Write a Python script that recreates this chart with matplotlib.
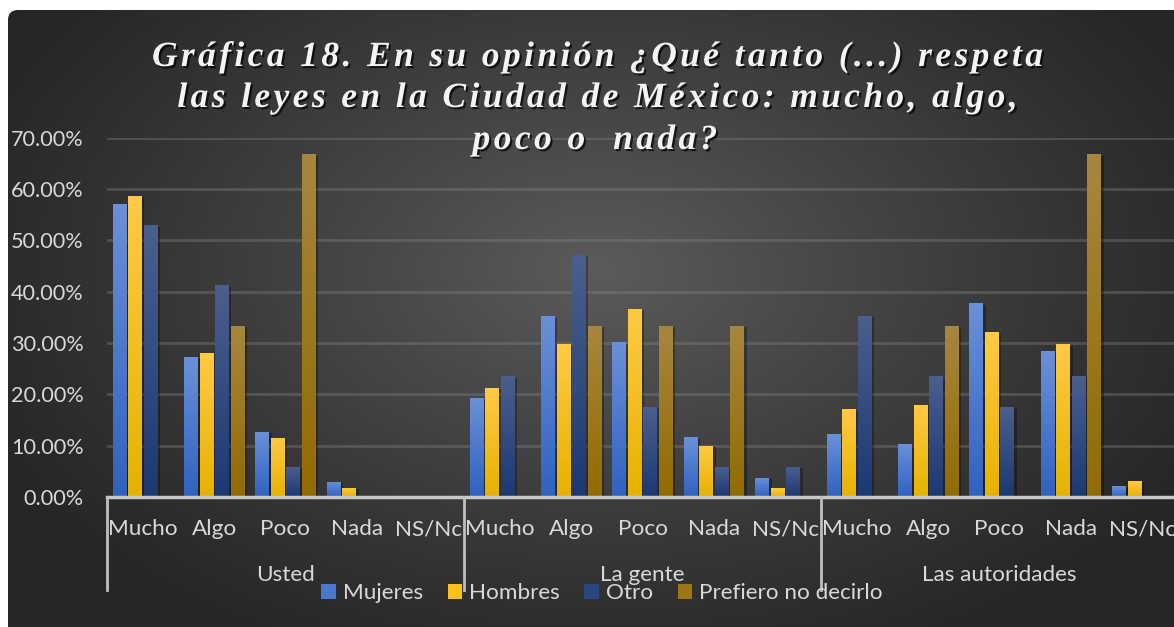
import numpy as np
import matplotlib
matplotlib.use("Agg")
import matplotlib.pyplot as plt
import matplotlib.patheffects as pe
from matplotlib.colors import LinearSegmentedColormap
from matplotlib.patches import FancyBboxPatch, Patch
from matplotlib.font_manager import FontProperties
import matplotlib.transforms as mtransforms

# ---------------- data ----------------
title_lines = ["Gráfica 18. En su opinión ¿Qué tanto (...) respeta",
               "las leyes en la Ciudad de México: mucho, algo,",
               "poco o  nada?"]
categories = ["Mucho", "Algo", "Poco", "Nada", "NS/Nc"]
groups = ["Usted", "La gente", "Las autoridades"]
series_names = ["Mujeres", "Hombres", "Otro", "Prefiero no decirlo"]
mujeres = [0.571, 0.272, 0.127, 0.030, 0.0,
           0.192, 0.352, 0.301, 0.116, 0.037,
           0.122, 0.103, 0.377, 0.284, 0.021]
hombres = [0.587, 0.280, 0.115, 0.018, 0.0,
           0.213, 0.297, 0.367, 0.100, 0.017,
           0.171, 0.179, 0.321, 0.297, 0.031]
otro = [0.529, 0.412, 0.059, 0.0, 0.0,
        0.235, 0.471, 0.176, 0.059, 0.059,
        0.353, 0.235, 0.176, 0.235, 0.0]
prefiero = [0.0, 0.333, 0.667, 0.0, 0.0,
            0.0, 0.333, 0.333, 0.333, 0.0,
            0.0, 0.333, 0.0, 0.667, 0.0]
yticks = [0.0, 0.1, 0.2, 0.3, 0.4, 0.5, 0.6, 0.7]

series = [mujeres, hombres, otro, prefiero]
grad_colors = [("#2f62bf", "#6b90d9"),   # bottom, top
               ("#e6b200", "#ffca45"),
               ("#1b3972", "#4c5f8e"),
               ("#926b00", "#a8863f")]
legend_colors = ["#4a78cf", "#fcc21a", "#2a4680", "#9c7714"]

W, H = 1174, 627
fig = plt.figure(figsize=(W / 100, H / 100), dpi=100, facecolor="white")

def fx(px):
    return px / W

def fy(py):
    return 1 - py / H

# ---------------- background ----------------
bg = fig.add_axes([0, 0, 1, 1], zorder=0)
bg.set_xlim(0, W)
bg.set_ylim(H, 0)
bg.axis("off")
yy, xx = np.mgrid[0:H, 0:W]
r = np.sqrt(((xx - 600) / 680.0) ** 2 + ((yy - 270) / 430.0) ** 2)
t = np.clip(1 - r, 0, 1) ** 1.1
dark = np.array([0x26, 0x26, 0x26]) / 255
light = np.array([0x5b, 0x5b, 0x5b]) / 255
img = dark[None, None, :] + (light - dark)[None, None, :] * t[..., None]
im = bg.imshow(img, extent=[0, W, H, 0], aspect="auto", interpolation="bilinear")
clip = FancyBboxPatch((8, 10), W + 40, H + 40, boxstyle="round,pad=0,rounding_size=10",
                      transform=bg.transData, facecolor="none", edgecolor="none")
bg.add_patch(clip)
im.set_clip_path(clip)

# ---------------- main axes ----------------
x0_px, x1_px = 107, 1178
y0_px, y1_px = 497, 137.5
ax = fig.add_axes([fx(x0_px), fy(y0_px), (x1_px - x0_px) / W, (y0_px - y1_px) / H], zorder=2)
ax.patch.set_alpha(0)
for s in ax.spines.values():
    s.set_visible(False)

n = len(mujeres)
x = np.arange(n)
pitch = 0.218
width = 0.19
grad = np.linspace(0, 1, 256).reshape(-1, 1)
for i, (vals, (cb, ct)) in enumerate(zip(series, grad_colors)):
    cmap = LinearSegmentedColormap.from_list(f"g{i}", [cb, ct])
    bars = ax.bar(x + (i - 1.5) * pitch, vals, width=width, color=cb, zorder=3,
                  label=series_names[i])
    for b in bars:
        h = b.get_height()
        if h <= 0:
            b.set_visible(False)
            continue
        b.set_path_effects([pe.SimplePatchShadow(offset=(2, -1), shadow_rgbFace="black",
                                                 alpha=0.3), pe.Normal()])
        bx = b.get_x()
        gi = ax.imshow(grad, extent=[bx, bx + width, 0, h], origin="lower", aspect="auto",
                       cmap=cmap, zorder=4, interpolation="bilinear")
        gi.set_clip_path(b)

ax.set_xlim(-0.5, n - 0.5)
ax.set_ylim(0, 0.70)
ax.set_yticks(yticks)
ax.yaxis.set_major_formatter(matplotlib.ticker.FuncFormatter(lambda v, p: f"{v * 100:.2f}%"))
ax.grid(axis="y", color="#8a8a8a", alpha=0.35, lw=2.0, zorder=1)
ax.set_axisbelow(True)
label_font = "Lato"
lab_size = 16.2
ax.tick_params(axis="y", length=0, pad=17, labelsize=15.6, labelcolor="#d9d9d9")
for lab in ax.get_yticklabels():
    lab.set_fontfamily(label_font)
ax.set_xticks(x)
ax.set_xticklabels(categories * len(groups), fontfamily=label_font, fontsize=lab_size,
                   color="#d9d9d9")
ax.tick_params(axis="x", length=0, pad=16)

# axis line and group separators
ax.axhline(0, color="#c8c8c8", lw=2.5, zorder=5, clip_on=False)
trans = mtransforms.blended_transform_factory(ax.transData, fig.transFigure)
for k in range(len(groups) + 1):
    xs = k * len(categories) - 0.5
    ax.plot([xs, xs], [fy(497), fy(590)], transform=trans, color="#bfbfbf", lw=2,
            clip_on=False, zorder=5)
for k, g in enumerate(groups):
    ax.text(k * len(categories) + 2, fy(575), g, transform=trans, ha="center", va="center",
            fontfamily=label_font, fontsize=lab_size, color="#d9d9d9")

# legend
handles = [Patch(facecolor=c, edgecolor="none", label=nm) for c, nm in zip(legend_colors, series_names)]
leg = fig.legend(handles=handles, loc="center", bbox_to_anchor=(fx(602), fy(593)), ncol=4,
                 frameon=False, prop=FontProperties(family=label_font, size=lab_size),
                 handlelength=0.65, handleheight=0.65, handletextpad=0.3, columnspacing=1.1,
                 labelcolor="#d9d9d9", borderaxespad=0, borderpad=0)

# ---------------- title (letter spaced) ----------------
renderer = fig.canvas.get_renderer()
tfp = FontProperties(family="Liberation Serif", weight="bold", style="italic", size=25.5)
spacing = 3.4
baselines = [66, 107, 149]
centers = [597.5, 597.5, 595]
for line, base, cx in zip(title_lines, baselines, centers):
    widths = [renderer.get_text_width_height_descent(ch, tfp, ismath=False)[0] for ch in line]
    total = sum(widths) + spacing * (len(line) - 1)
    xcur = cx - total / 2
    for ch, w in zip(line, widths):
        if ch != " ":
            fig.text(fx(xcur), fy(base), ch, fontproperties=tfp, color="#f4f4f4",
                     ha="left", va="baseline", zorder=10,
                     path_effects=[pe.SimplePatchShadow(offset=(1.5, -1.5), shadow_rgbFace="black",
                                                        alpha=0.7), pe.Normal()])
        xcur += w + spacing

fig.savefig("out.png", dpi=100, facecolor="white")
